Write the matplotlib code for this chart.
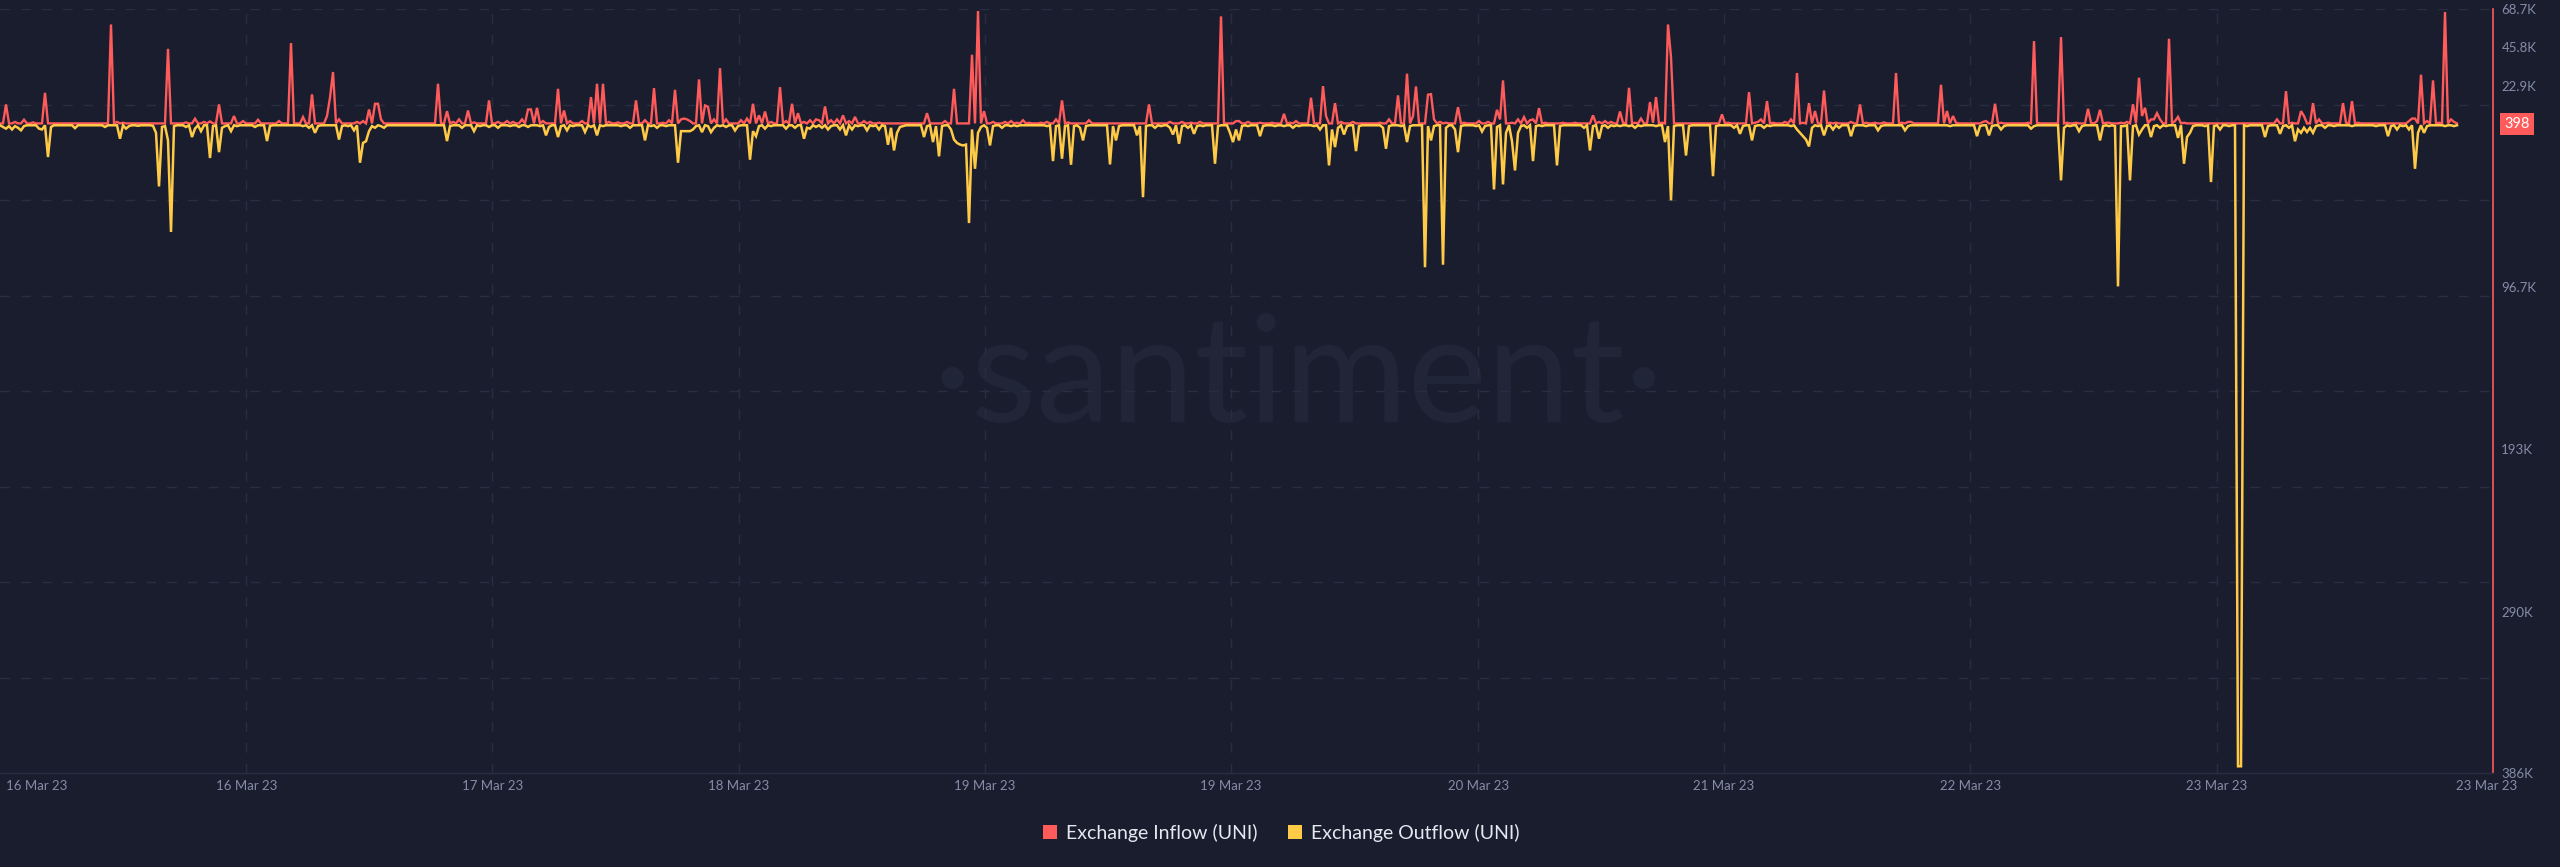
import numpy as np
import matplotlib
matplotlib.use("Agg")
import matplotlib.pyplot as plt
from matplotlib.patches import Patch
from matplotlib.transforms import blended_transform_factory

# ---------------- data ----------------
N_POINTS = 820
inflow_base = 600          # typical quiet-hour inflow (UNI)
outflow_base = 500         # typical quiet-hour outflow (UNI)

inflow_idx = [2, 5, 8, 11, 15, 37, 39, 41, 56, 62, 65, 68, 70, 73, 78, 81, 86, 93, 97, 101,
              104, 109, 110, 111, 113, 119, 121, 123, 125, 126, 127, 146, 149, 151, 153, 156,
              158, 163, 166, 169, 171, 174, 176, 177, 179, 181, 186, 188, 190, 194, 197, 199,
              201, 203, 206, 209, 212, 215, 218, 221, 223, 225, 227, 228, 229, 230, 233, 235,
              236, 238, 240, 242, 247, 249, 251, 253, 255, 257, 260, 262, 264, 266, 268, 270,
              272, 273, 275, 277, 279, 281, 283, 285, 288, 290, 293, 309, 315, 318, 324, 326,
              328, 331, 335, 337, 339, 341, 343, 347, 349, 352, 354, 356, 363, 383, 390, 394,
              397, 400, 407, 412, 413, 416, 420, 424, 428, 430, 432, 437, 441, 442, 445, 447,
              451, 460, 463, 466, 469, 471, 472, 476, 477, 478, 480, 482, 486, 488, 493, 496,
              499, 500, 501, 504, 506, 508, 510, 511, 513, 515, 521, 525, 531, 533, 535, 537,
              540, 541, 543, 545, 547, 550, 551, 552, 554, 556, 557, 574, 576, 583, 585, 586,
              587, 589, 591, 595, 597, 599, 601, 603, 605, 608, 610, 612, 617, 620, 622, 625,
              628, 632, 634, 636, 637, 647, 649, 651, 652, 661, 662, 665, 667, 676, 678, 679,
              687, 689, 692, 696, 697, 699, 700, 702, 703, 707, 709, 711, 713, 714, 715, 717,
              718, 719, 720, 723, 725, 726, 728, 759, 762, 764, 767, 768, 771, 773, 776, 781,
              782, 784, 786, 803, 804, 805, 807, 809, 811, 813, 815, 817, 818]
inflow_k = [11.9, 1.5, 2.8, 1.2, 18.8, 59.5, 1.5, 1.0, 45.0, 1.2, 3.4, 1.5, 1.8, 11.9, 5.0, 2.0,
            2.8, 2.0, 48.4, 4.4, 17.9, 5.0, 16.0, 31.2, 3.0, 1.5, 2.0, 8.9, 12.3, 12.3, 3.0, 24.2,
            7.9, 1.5, 3.0, 8.3, 1.2, 14.3, 1.5, 2.0, 1.5, 3.0, 8.9, 8.9, 9.9, 2.0, 21.2, 8.3, 2.0,
            2.0, 16.3, 24.2, 24.2, 1.5, 1.2, 1.5, 14.3, 2.5, 21.6, 1.0, 2.5, 20.6, 3.0, 3.5, 3.0,
            2.0, 26.8, 11.3, 10.5, 3.0, 33.5, 3.0, 2.5, 3.5, 12.3, 5.4, 7.7, 1.5, 22.2, 2.0, 12.3,
            6.7, 1.5, 2.5, 3.0, 2.5, 10.7, 2.5, 3.0, 5.4, 2.0, 4.5, 2.0, 1.5, 1.0, 6.7, 2.0, 21.2,
            41.5, 67.5, 7.9, 1.5, 1.5, 2.0, 1.0, 2.5, 1.0, 1.0, 1.5, 3.0, 14.3, 1.2, 2.5, 11.9,
            1.5, 1.5, 1.0, 1.5, 64.3, 2.0, 2.0, 1.5, 1.0, 1.0, 6.3, 1.0, 2.0, 15.9, 22.8, 5.0,
            12.7, 1.5, 1.5, 1.0, 3.0, 17.3, 30.2, 5.0, 22.6, 17.7, 18.0, 3.0, 1.5, 1.0, 10.3, 1.0,
            2.0, 1.5, 8.7, 3.0, 26.2, 1.0, 3.0, 4.4, 2.5, 3.0, 9.7, 1.0, 1.0, 1.0, 5.4, 1.5, 2.0,
            1.5, 7.7, 1.0, 21.8, 1.0, 3.5, 13.3, 1.0, 16.3, 1.0, 59.5, 40.0, 6.0, 1.0, 19.2, 1.0,
            1.5, 3.0, 13.9, 1.0, 1.5, 3.0, 30.6, 1.0, 12.7, 8.0, 20.2, 1.0, 1.0, 1.5, 11.9, 1.0,
            1.0, 1.2, 30.6, 1.0, 1.5, 1.5, 23.6, 8.0, 5.0, 1.0, 1.5, 2.0, 12.3, 1.0, 1.0, 49.6,
            1.0, 52.0, 1.0, 1.0, 9.3, 1.0, 2.0, 8.7, 1.0, 1.0, 1.0, 1.5, 12.0, 27.8, 5.0, 9.9,
            3.0, 3.0, 6.7, 3.0, 51.0, 2.0, 4.5, 1.0, 3.0, 19.8, 1.0, 7.9, 5.0, 12.7, 3.0, 1.0,
            12.7, 1.0, 13.9, 1.0, 2.0, 3.5, 3.5, 29.6, 2.0, 26.2, 1.0, 66.9, 3.0, 1.5]

outflow_idx = [1, 2, 3, 4, 5, 6, 7, 8, 13, 14, 16, 17, 25, 35, 40, 42, 43, 46, 51, 52, 53, 54,
               55, 56, 57, 58, 62, 64, 65, 67, 68, 70, 71, 73, 74, 75, 77, 79, 85, 89, 90, 101,
               103, 105, 106, 113, 114, 116, 118, 120, 121, 122, 123, 124, 125, 127, 128, 137,
               149, 150, 154, 158, 160, 163, 166, 170, 173, 176, 180, 182, 183, 186, 187, 189,
               191, 195, 197, 199, 201, 204, 207, 210, 215, 217, 219, 222, 226, 227, 228, 229,
               230, 231, 232, 234, 236, 237, 238, 240, 242, 245, 246, 250, 251, 252, 253, 255,
               257, 262, 265, 268, 269, 270, 272, 274, 276, 277, 280, 282, 284, 286, 289, 291,
               293, 295, 296, 297, 298, 299, 300, 301, 308, 309, 311, 312, 313, 314, 317, 318,
               319, 320, 321, 322, 323, 324, 325, 326, 327, 329, 330, 331, 334, 337, 339, 349,
               351, 352, 354, 355, 357, 358, 360, 361, 362, 370, 371, 372, 373, 379, 380, 381,
               382, 385, 387, 390, 391, 393, 394, 396, 398, 399, 401, 405, 406, 410, 411, 412,
               413, 414, 416, 420, 421, 425, 428, 431, 433, 438, 440, 443, 444, 445, 446, 448,
               449, 452, 453, 461, 462, 463, 467, 469, 470, 475, 476, 477, 478, 481, 482, 485,
               486, 487, 492, 494, 495, 498, 499, 501, 502, 504, 505, 506, 507, 509, 511, 512,
               514, 519, 520, 528, 530, 531, 533, 534, 536, 538, 540, 543, 545, 547, 552, 555,
               556, 557, 558, 562, 563, 571, 572, 578, 580, 581, 584, 585, 588, 590, 597, 599,
               600, 601, 602, 603, 604, 606, 608, 609, 611, 613, 617, 618, 622, 626, 627, 635,
               636, 650, 659, 660, 663, 664, 667, 668, 677, 678, 687, 688, 690, 693, 694, 700,
               701, 703, 705, 706, 707, 708, 710, 711, 713, 714, 717, 718, 720, 722, 726, 728,
               729, 730, 731, 735, 737, 738, 740, 743, 746, 747, 749, 755, 756, 760, 761, 763,
               765, 766, 767, 768, 769, 770, 771, 772, 775, 778, 784, 792, 796, 797, 799, 801,
               803, 805, 806, 808, 809, 815, 818]
outflow_k = [1.5, 2.5, 1.0, 3.0, 1.0, 2.0, 3.5, 1.0, 2.5, 3.0, 19.4, 1.5, 2.2, 1.5, 8.5, 2.5,
             1.0, 0.8, 0.8, 5.0, 36.9, 1.5, 1.0, 9.5, 64.0, 1.0, 1.5, 7.5, 2.5, 4.0, 0.5, 20.0,
             1.0, 16.5, 2.0, 1.0, 4.0, 1.0, 1.5, 9.9, 0.8, 1.0, 2.0, 5.0, 1.0, 9.0, 1.0, 1.0, 3.5,
             22.8, 11.0, 10.0, 4.0, 1.0, 2.0, 1.0, 2.0, 0.5, 9.9, 1.0, 2.0, 4.0, 1.0, 1.5, 2.0,
             1.0, 1.5, 1.5, 1.0, 6.5, 1.5, 7.5, 1.0, 3.5, 1.0, 4.5, 1.5, 6.5, 1.0, 0.5, 1.0, 2.0,
             9.5, 1.0, 2.0, 1.0, 22.8, 4.0, 4.0, 4.0, 4.0, 3.0, 1.0, 4.6, 1.0, 4.6, 2.0, 1.0, 1.5,
             3.6, 1.0, 21.0, 4.0, 7.0, 1.0, 2.5, 1.0, 2.5, 2.0, 8.5, 2.0, 2.5, 1.5, 2.0, 3.0, 1.0,
             3.0, 6.5, 3.0, 1.0, 3.5, 1.0, 3.0, 1.0, 12.1, 2.0, 15.5, 5.0, 1.5, 1.0, 7.5, 1.0,
             10.5, 1.0, 19.0, 1.0, 3.0, 9.0, 11.0, 12.0, 12.5, 12.0, 58.7, 3.0, 26.4, 5.0, 1.5,
             2.0, 12.5, 1.0, 2.0, 1.0, 1.0, 1.0, 21.8, 1.0, 20.4, 1.0, 24.0, 1.0, 2.0, 9.5, 1.0,
             23.8, 1.0, 9.5, 1.0, 6.5, 1.0, 43.3, 1.0, 2.0, 1.0, 2.0, 6.0, 11.5, 1.0, 2.0, 5.6,
             1.0, 1.0, 23.4, 1.0, 5.0, 10.5, 3.0, 9.5, 1.0, 1.0, 7.0, 1.0, 1.0, 1.0, 2.0, 1.0,
             1.0, 3.0, 24.4, 3.0, 13.5, 2.0, 6.0, 1.0, 15.9, 1.0, 2.0, 14.5, 1.0, 1.0, 10.5, 1.0,
             85.0, 1.0, 9.5, 1.0, 83.5, 2.0, 3.0, 16.5, 1.0, 1.0, 4.2, 1.0, 38.7, 1.5, 35.7, 5.0,
             10.0, 27.4, 5.0, 1.0, 2.0, 21.8, 1.0, 1.0, 24.4, 1.0, 2.0, 15.5, 1.0, 8.5, 1.0, 2.0,
             1.0, 1.0, 1.0, 2.0, 1.0, 1.0, 10.5, 1.0, 45.2, 1.0, 18.5, 1.0, 30.8, 1.0, 2.0, 5.6,
             1.0, 9.5, 1.0, 2.0, 1.0, 1.0, 3.0, 5.0, 7.0, 9.0, 13.1, 2.0, 1.0, 6.5, 1.0, 3.0, 2.0,
             7.0, 1.0, 1.0, 3.5, 1.0, 3.5, 1.0, 1.0, 7.0, 1.0, 6.5, 1.0, 3.0, 1.0, 2.5, 1.0, 33.3,
             2.0, 1.0, 4.0, 1.0, 9.5, 1.0, 1.0, 1.0, 96.4, 1.0, 1.0, 33.3, 1.0, 6.0, 3.0, 7.5,
             1.0, 2.0, 1.0, 8.0, 23.4, 7.5, 5.0, 1.0, 1.0, 34.3, 1.0, 3.0, 1.0, 382.0, 382.0, 1.0,
             7.5, 1.0, 5.6, 1.0, 2.0, 10.0, 3.0, 5.0, 2.0, 4.5, 2.0, 5.0, 1.0, 2.0, 1.0, 1.0, 1.0,
             7.0, 1.0, 3.0, 1.0, 3.0, 26.4, 5.0, 5.0, 1.0, 1.0, 1.0]

x_tick_labels = ["16 Mar 23", "16 Mar 23", "17 Mar 23", "18 Mar 23", "19 Mar 23", "19 Mar 23",
                 "20 Mar 23", "21 Mar 23", "22 Mar 23", "23 Mar 23", "23 Mar 23"]
y_tick_values = [68700, 45800, 22900, -96700, -193000, -290000, -386000]
y_tick_labels = ["68.7K", "45.8K", "22.9K", "96.7K", "193K", "290K", "386K"]
last_inflow_value = 398
series_names = ["Exchange Inflow (UNI)", "Exchange Outflow (UNI)"]

# ---------------- build series ----------------
inflow = np.full(N_POINTS, float(inflow_base))
inflow[np.array(inflow_idx)] = np.array(inflow_k) * 1000
outflow = np.full(N_POINTS, float(outflow_base))
outflow[np.array(outflow_idx)] = np.array(outflow_k) * 1000
x = np.arange(N_POINTS)

# ---------------- style ----------------
BG = "#1a1d2e"
GRID = "#282d42"
TXT = "#848ca8"
RED = "#ff5b5b"
YEL = "#ffcb47"
FONT = ["Lato", "DejaVu Sans"]
plt.rcParams["font.family"] = FONT

fig = plt.figure(figsize=(25.6, 8.67), dpi=100)
fig.patch.set_facecolor(BG)
W, H = 2560, 867
ax = fig.add_axes([0, 1 - 773 / H, 2493 / W, (773 - 9) / H])
ax.set_facecolor(BG)

ymax, ymin = 68700, -386000
ax.set_xlim(0, 831)
ax.set_ylim(ymin, ymax)

# horizontal dashed grid (evenly spaced)
for k in range(8):
    yv = ymax - k * (ymax - ymin) / 8
    ax.axhline(yv, color=GRID, lw=1.0, dashes=(7, 8), zorder=1)
# vertical dashed grid
grid_x = [82.1, 164.1, 246.3, 328.3, 410.3, 492.7, 574.7, 656.7, 739.0]
for gx in grid_x:
    ax.axvline(gx, color=GRID, lw=1.0, dashes=(7, 8), zorder=1)

# watermark
ax.text(0.521, 0.515, "·santiment·", transform=ax.transAxes, ha="center", va="center",
        fontsize=108, color="#212538", fontweight="normal", zorder=0)

ax.plot(x, inflow, color=RED, lw=1.7, zorder=3, solid_joinstyle="miter")
ax.plot(x, -outflow, color=YEL, lw=1.8, zorder=4, solid_joinstyle="miter")

# spines
for s in ["top", "left"]:
    ax.spines[s].set_visible(False)
ax.spines["right"].set_color(RED)
ax.spines["right"].set_linewidth(1.2)
ax.spines["bottom"].set_color(GRID)
ax.spines["bottom"].set_linewidth(1.0)

# x ticks
xtick_pos = [12.3] + grid_x + [828.8]
ax.set_xticks(xtick_pos)
ax.set_xticklabels(x_tick_labels)
ax.tick_params(axis="x", length=0, pad=5, labelsize=9.5, labelcolor=TXT)

# y ticks on right
ax.yaxis.tick_right()
ax.set_yticks(y_tick_values)
ax.set_yticklabels(y_tick_labels)
ax.tick_params(axis="y", length=0, pad=6, labelsize=9.5, labelcolor=TXT)

# current value badge
tr = blended_transform_factory(ax.transAxes, ax.transData)
ax.text(1.0045, last_inflow_value, str(last_inflow_value), transform=tr, ha="left", va="center",
        fontsize=10.5, color="white", zorder=6, clip_on=False,
        bbox=dict(boxstyle="square,pad=0.28", fc=RED, ec="none"))

# legend
handles = [Patch(facecolor=RED, edgecolor="none"), Patch(facecolor=YEL, edgecolor="none")]
leg = fig.legend(handles, series_names, loc="center", bbox_to_anchor=(0.5005, 1 - 833 / H),
                 ncol=2, frameon=False, fontsize=14, handlelength=0.7, handleheight=0.7,
                 handletextpad=0.45, columnspacing=1.6, labelcolor="#e6e8f0")

fig.savefig("out.png", dpi=100, facecolor=BG)
